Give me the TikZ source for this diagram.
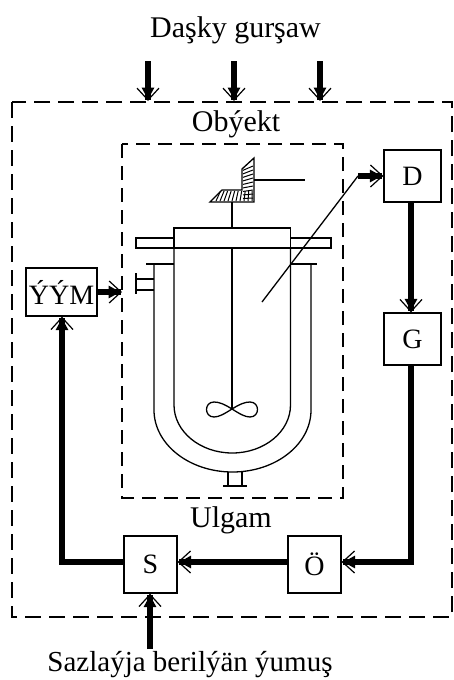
\documentclass[tikz,border=0pt]{standalone}
\usepackage{fontspec}
\setmainfont{Liberation Serif}
\usetikzlibrary{arrows.meta}

\tikzset{
  lbl/.style = {inner sep=0pt, font=\fontsize{30}{30}\selectfont},
  blok/.style = {draw, line width=1.3pt, inner sep=0pt, font=\fontsize{28}{28}\selectfont},
  sim/.style = {line width=1.3pt},
  strl/.style = {line width=5.2pt, -{Triangle[length=12pt,width=12pt,sep=-12pt]Straight Barb[length=12pt,width=22pt,line width=1.2pt]}},
  dashbox/.style = {line width=1.3pt, dash pattern=on 16pt off 8pt},
  dashin/.style = {line width=1.3pt, dash pattern=on 14pt off 8pt},
}

\begin{document}
\begin{tikzpicture}[x=1pt, y=-1pt]
\useasboundingbox (0,0) rectangle (453,680);
% text
\node[lbl] (title) at (235.5,30) {Daşky gurşaw};
\node[lbl] (obj) at (236,124) {Obýekt};
\node[lbl] (ulg) at (231,520) {Ulgam};
\node[lbl, font=\fontsize{29}{29}\selectfont] (goal) at (190,665) {Sazlaýja berilýän ýumuş};
% dashed frames
\draw[dashbox] (12,102) rectangle (452,617);
\draw[dashin] (122,144) rectangle (343,498);
% blocks
\node[blok, minimum width=57pt, minimum height=52pt] (d) at (412.5,176) {D};
\node[blok, minimum width=57pt, minimum height=52pt] (g) at (412.5,339) {G};
\node[blok, minimum width=53pt, minimum height=57pt] (o) at (314.5,564.5) {Ö};
\node[blok, minimum width=53pt, minimum height=57pt] (s) at (150.5,564.5) {S};
\node[blok, minimum width=71pt, minimum height=48pt] (y) at (61.5,292) {ÝÝM};
% coordinates
\coordinate (in1) at (148,61);
\coordinate (in1e) at (148,101);
\coordinate (in2) at (234,61);
\coordinate (in2e) at (234,101);
\coordinate (in3) at (320,61);
\coordinate (in3e) at (320,101);
\coordinate (sb) at (150,649);
\coordinate (tip) at (358,176);
\coordinate (sens) at (262,302);
\coordinate (rc) at (411,562);
\coordinate (lc) at (62,562);
\coordinate (ymr) at (122,292);
% disturbance
\draw[strl] (in1) -- (in1e);
\draw[strl] (in2) -- (in2e);
\draw[strl] (in3) -- (in3e);
% loop
\draw[sim] (sens) -- (tip);
\draw[strl] (tip) -- (d.west);
\draw[strl] (rc |- d.south) -- (rc |- g.north);
\draw[strl] (rc |- g.south) -- (rc) -- (rc -| o.east);
\draw[strl] (rc -| o.west) -- (rc -| s.east);
\draw[strl] (rc -| s.west) -- (lc) -- (lc |- y.south);
\draw[strl] (sb) -- (sb |- s.south);
\draw[strl] (y.east) -- (ymr);
% vessel
\draw[sim] (174,228) rectangle (290.5,248);
\draw[sim] (174,238) -- (136,238) -- (136,248) -- (331,248) -- (331,238) -- (290.5,238);
\draw[sim] (174,248) -- (174,405) arc[start angle=180, end angle=0, x radius=58.25, y radius=48] -- (290.5,248);
\draw[sim] (154,264) -- (154,410) arc[start angle=180, end angle=0, x radius=78.5, y radius=62] -- (311,264);
\draw[sim] (146,264) -- (174,264);
\draw[sim] (291,264) -- (317,264);
\draw[sim] (136,273) -- (136,294);
\draw[sim] (136,279) -- (154,279);
\draw[sim] (136,290) -- (154,290);
\draw[sim] (228,472) -- (228,486);
\draw[sim] (242,472) -- (242,486);
\draw[sim] (223,486) -- (247,486);
% shaft and stirrer
\draw[sim] (232,248) -- (232,409);
\draw[sim] (232,202) -- (232,228);
\draw[sim] (232,409) .. controls (224,404) and (219,402) .. (214,402) .. controls (204,402) and (204,417) .. (214,417) .. controls (219,417) and (224,414) .. (232,409) .. controls (240,404) and (245,402) .. (250,402) .. controls (260,402) and (260,417) .. (250,417) .. controls (245,417) and (240,414) .. (232,409);
% gear
\draw[sim] (210,202) -- (222,190) -- (242,190) -- (242,169) -- (254,158) -- (254,202) -- cycle;
\foreach \x in {216,220,...,252} \draw[line width=1pt] (\x,201) -- (\x+0.12*254-0.12*\x,191);
\foreach \y in {166,170,...,198} \draw[line width=1pt] (253,\y) -- (243,\y+0.12*202-0.12*\y);
\draw[sim] (254,180) -- (305,180);
\end{tikzpicture}
\end{document}
